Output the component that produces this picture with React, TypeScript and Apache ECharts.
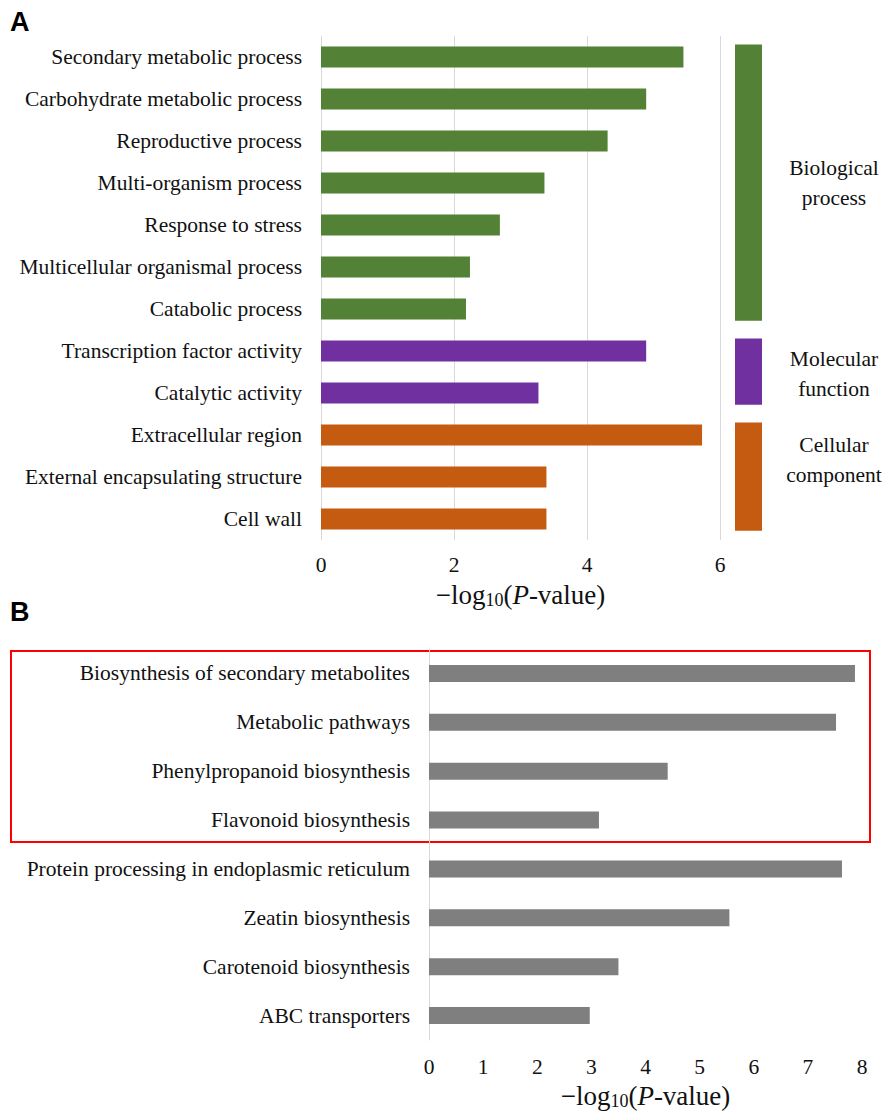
import React, { useEffect, useRef } from "react";
import * as echarts from "echarts";

// GO enrichment terms (panel A)
const goTerms = [
  "Secondary metabolic process",
  "Carbohydrate metabolic process",
  "Reproductive process",
  "Multi-organism process",
  "Response to stress",
  "Multicellular organismal process",
  "Catabolic process",
  "Transcription factor activity",
  "Catalytic activity",
  "Extracellular region",
  "External encapsulating structure",
  "Cell wall",
];
const goValues = [5.45, 4.89, 4.31, 3.36, 2.69, 2.24, 2.18, 4.89, 3.27, 5.73, 3.39, 3.39];
// index into goCategories for each term
const goTermCategory = [0, 0, 0, 0, 0, 0, 0, 1, 1, 2, 2, 2];
const goCategories = ["Biological\nprocess", "Molecular\nfunction", "Cellular\ncomponent"];
const goCategoryColors = ["#538135", "#7030a0", "#c55a11"];
// first and last term row of each GO category
const goCategoryRows = [
  [0, 6],
  [7, 8],
  [9, 11],
];
const goTicks = [0, 2, 4, 6];

// KEGG pathways (panel B)
const keggPathways = [
  "Biosynthesis of secondary metabolites",
  "Metabolic pathways",
  "Phenylpropanoid biosynthesis",
  "Flavonoid biosynthesis",
  "Protein processing in endoplasmic reticulum",
  "Zeatin biosynthesis",
  "Carotenoid biosynthesis",
  "ABC transporters",
];
const keggValues = [7.87, 7.52, 4.41, 3.14, 7.63, 5.55, 3.5, 2.97];
const keggTicks = [0, 1, 2, 3, 4, 5, 6, 7, 8];

const SERIF = "'Liberation Serif', 'Times New Roman', serif";
const SANS = "'Liberation Sans', Arial, sans-serif";
const TEXT = "#111111";
const GRID_LINE = "#d9d9d9";
const LABEL_SIZE = 21.5;

// vertical nudge of each category caption relative to its bar's middle
const captionShift = [0, 2, -17];

const axisTitle = "{t|\u2212log}{s|10}{t|(}{i|P}{t|-value)}";
const axisTitleStyle = {
  fontFamily: SERIF,
  fontSize: 27,
  color: TEXT,
  rich: {
    t: { fontFamily: SERIF, fontSize: 27, color: TEXT, lineHeight: 28 },
    i: { fontFamily: SERIF, fontSize: 27, fontStyle: "italic", color: TEXT, lineHeight: 28 },
    s: { fontFamily: SERIF, fontSize: 18, color: TEXT, lineHeight: 18, verticalAlign: "bottom" },
  },
};

export default function App() {
  const ref = useRef<HTMLDivElement>(null);

  useEffect(() => {
    if (!ref.current) return;
    const chart = echarts.init(ref.current, null, { renderer: "svg" });

    const option = {
      animation: false,
      backgroundColor: "#ffffff",
      grid: [
        { left: 321, top: 36, width: 399, height: 504, outerBoundsMode: "none" },
        { left: 735, top: 36, width: 27, height: 504, outerBoundsMode: "none" },
        { left: 429, top: 649, width: 433, height: 391, outerBoundsMode: "none" },
      ],
      xAxis: [
        {
          gridIndex: 0,
          type: "value",
          min: goTicks[0],
          max: goTicks[goTicks.length - 1],
          interval: goTicks[1] - goTicks[0],
          axisLine: { show: false },
          axisTick: { show: false },
          splitLine: { show: true, lineStyle: { color: GRID_LINE, width: 1 } },
          axisLabel: { fontFamily: SERIF, fontSize: LABEL_SIZE, color: TEXT, margin: 14 },
          name: axisTitle,
          nameLocation: "middle",
          nameGap: 41,
          nameTextStyle: axisTitleStyle,
        },
        { gridIndex: 1, type: "value", min: 0, max: 1, show: false },
        {
          gridIndex: 2,
          type: "value",
          min: keggTicks[0],
          max: keggTicks[keggTicks.length - 1],
          interval: keggTicks[1] - keggTicks[0],
          axisLine: { show: false },
          axisTick: { show: false },
          splitLine: { show: false },
          axisLabel: { fontFamily: SERIF, fontSize: LABEL_SIZE, color: TEXT, margin: 16 },
          name: axisTitle,
          nameLocation: "middle",
          nameGap: 42,
          nameTextStyle: axisTitleStyle,
        },
      ],
      yAxis: [
        {
          gridIndex: 0,
          type: "category",
          data: goTerms,
          inverse: true,
          axisLine: { show: false },
          axisTick: { show: false },
          axisLabel: { fontFamily: SERIF, fontSize: LABEL_SIZE, color: TEXT, margin: 19 },
        },
        { gridIndex: 1, type: "category", data: goTerms, inverse: true, show: false },
        {
          gridIndex: 2,
          type: "category",
          data: keggPathways,
          inverse: true,
          axisLine: { show: true, lineStyle: { color: GRID_LINE, width: 1 } },
          axisTick: { show: false },
          axisLabel: { fontFamily: SERIF, fontSize: LABEL_SIZE, color: TEXT, margin: 19 },
        },
      ],
      series: [
        {
          type: "bar",
          xAxisIndex: 0,
          yAxisIndex: 0,
          barWidth: 21,
          data: goValues.map((v, i) => ({
            value: v,
            itemStyle: { color: goCategoryColors[goTermCategory[i]] },
          })),
        },
        {
          type: "custom",
          xAxisIndex: 1,
          yAxisIndex: 1,
          clip: false,
          encode: { x: 0, y: 1 },
          data: goCategoryRows.map(([a, b]) => [0, a, b]),
          renderItem: (params: any, api: any) => {
            const first = api.coord([0, api.value(1)]);
            const last = api.coord([0, api.value(2)]);
            const band = api.size([0, 1])[1];
            const w = api.size([1, 0])[0];
            const y0 = first[1] - band * 0.3;
            const y1 = last[1] + band * 0.28;
            const idx = params.dataIndex;
            return {
              type: "group",
              children: [
                {
                  type: "rect",
                  shape: { x: first[0], y: y0, width: w, height: y1 - y0 },
                  style: { fill: goCategoryColors[idx] },
                },
                {
                  type: "text",
                  style: {
                    text: goCategories[idx],
                    x: first[0] + w + 72,
                    y: (y0 + y1) / 2 + captionShift[idx],
                    align: "center",
                    verticalAlign: "middle",
                    fontFamily: SERIF,
                    fontSize: LABEL_SIZE,
                    lineHeight: 30,
                    fill: TEXT,
                  },
                },
              ],
            };
          },
        },
        {
          type: "bar",
          xAxisIndex: 2,
          yAxisIndex: 2,
          barWidth: 17,
          itemStyle: { color: "#7f7f7f" },
          data: keggValues,
        },
      ],
      graphic: [
        {
          type: "text",
          left: 10,
          top: 8,
          style: { text: "A", fontFamily: SANS, fontWeight: "bold", fontSize: 27, fill: "#000" },
        },
        {
          type: "text",
          left: 10,
          top: 598,
          style: { text: "B", fontFamily: SANS, fontWeight: "bold", fontSize: 27, fill: "#000" },
        },
        {
          type: "rect",
          shape: { x: 11, y: 651, width: 859, height: 191 },
          style: { fill: "none", stroke: "#ff0000", lineWidth: 2 },
        },
      ],
    };

    chart.setOption(option as any);
    return () => chart.dispose();
  }, []);

  return (
    <div
      ref={ref}
      style={{ position: "fixed", left: 0, top: 0, width: 887, height: 1112, background: "#fff" }}
    />
  );
}
